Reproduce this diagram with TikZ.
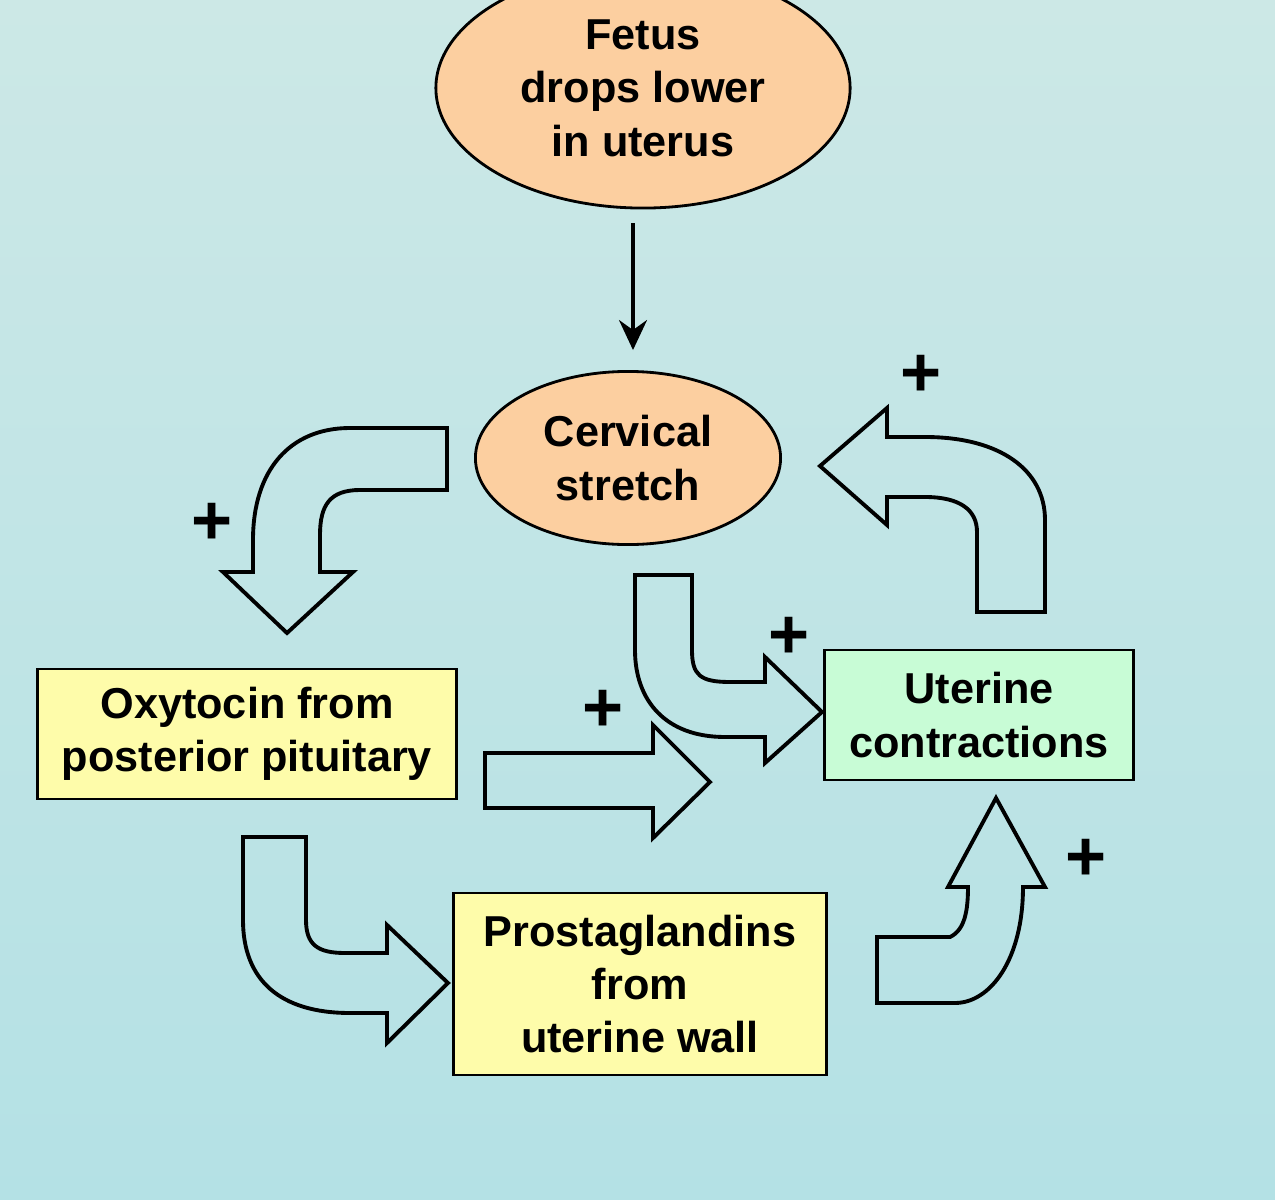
\documentclass[tikz,border=0pt]{standalone}
\usepackage{fontspec}
\setmainfont{Liberation Sans}
\usetikzlibrary{shapes.geometric}
\usetikzlibrary{arrows.meta}
\definecolor{peach}{RGB}{252,207,160}
\definecolor{paleyellow}{RGB}{254,252,170}
\definecolor{palegreen}{RGB}{200,252,214}
\definecolor{bgtop}{RGB}{204,232,230}
\definecolor{bgmid}{RGB}{160,202,208}
\definecolor{bgbot}{RGB}{180,225,229}

\begin{document}
\begin{tikzpicture}[x=0.01cm,y=-0.01cm]
	\tikzstyle{flowtxt}=[font=\fontsize{12.3}{15.2}\selectfont\bfseries,align=center,draw,line width=0.8pt,inner sep=0pt]
	\tikzstyle{oval}=[flowtxt,ellipse,fill=peach]
	\tikzstyle{box}=[flowtxt,rectangle,fill=paleyellow]
	\tikzstyle{bigarrow}=[line width=1.1pt,line join=miter]
	\tikzstyle{plus}=[font=\fontsize{20}{20}\selectfont\bfseries,inner sep=0pt]
	\useasboundingbox (0,0) rectangle (1275,1200);
	\shade[top color=bgtop, middle color=bgmid, bottom color=bgbot] (0,0) rectangle (1275,1200);
	% boxes
	\node (fetus) [oval, minimum width=4.14cm, minimum height=2.4cm] at (643,88) {Fetus\\drops lower\\in uterus};
	\node (cervical) [oval, minimum width=3.05cm, minimum height=1.73cm] at (628,458) {Cervical\\stretch};
	\node (oxytocin) [box, minimum width=4.19cm, minimum height=1.3cm] at (247,734) {Oxytocin from\\posterior pituitary};
	\node (uterine) [box, fill=palegreen, minimum width=3.09cm, minimum height=1.3cm] at (979,715) {Uterine\\contractions};
	\node (prost) [box, minimum width=3.73cm, minimum height=1.82cm] at (640,984) {Prostaglandins\\from\\uterine wall};
	\draw[line width=1pt, -{Stealth[length=3mm,width=2.8mm,inset=1mm]}, shorten <=0.14cm, shorten >=0.2cm] ([xshift=0.05cm]fetus.south -| cervical.north) -- ([xshift=0.05cm]cervical.north);
	% block arrows
	\draw[bigarrow] (447,428) -- (350,428) .. controls (290,428) and (253,470) .. (253,540) -- (253,572) -- (223,572) -- (287,633) -- (353,572) -- (320,572) -- (320,535) .. controls (320,505) and (330,490) .. (360,490) -- (447,490) -- cycle;
	\draw[bigarrow] (635,575) -- (692,575) -- (692,650) .. controls (692,675) and (700,682) .. (730,682) -- (765,682) -- (765,657) -- (822,712) -- (765,763) -- (765,737) -- (725,737) .. controls (665,737) and (635,700) .. (635,650) -- cycle;
	\draw[bigarrow] (485,753) -- (653,753) -- (653,725) -- (710,782) -- (653,838) -- (653,808) -- (485,808) -- cycle;
	\draw[bigarrow] (977,612) -- (1045,612) -- (1045,520) .. controls (1045,470) and (1000,437) .. (925,437) -- (887,437) -- (887,408) -- (820,466) -- (887,525) -- (887,497) -- (925,497) .. controls (960,497) and (977,510) .. (977,532) -- cycle;
	\draw[bigarrow] (243,837) -- (306,837) -- (306,920) .. controls (306,945) and (318,953) .. (345,953) -- (387,953) -- (387,925) -- (448,983) -- (387,1043) -- (387,1013) -- (350,1013) .. controls (280,1013) and (243,980) .. (243,920) -- cycle;
	\draw[bigarrow] (877,937) -- (950,937) .. controls (965,930) and (968,910) .. (968,887) -- (948,887) -- (996,798) -- (1045,887) -- (1023,887) .. controls (1023,960) and (990,1003) .. (955,1003) -- (877,1003) -- cycle;
	% signs
	\node (p1) [plus] at (921,376) {+};
	\node (p2) [plus] at (212,524) {+};
	\node (p3) [plus] at (789,638) {+};
	\node (p4) [plus] at (603,711) {+};
	\node (p5) [plus] at (1086,860) {+};
\end{tikzpicture}
\end{document}
